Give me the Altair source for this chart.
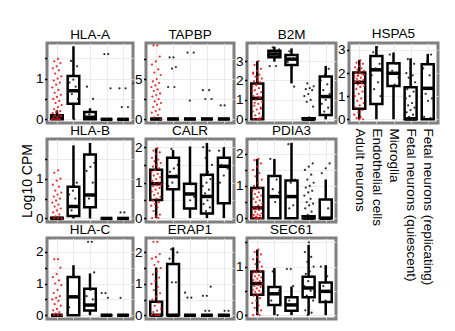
import altair as alt
import pandas as pd

CATS = ["Adult neurons", "Endothelial cells", "Microglia",
        "Fetal neurons (quiescent)", "Fetal neurons (replicating)"]
ROW1 = ["HLA-A", "TAPBP", "B2M", "HSPA5"]
ROW2 = ["HLA-B", "CALR", "PDIA3"]
ROW3 = ["HLA-C", "ERAP1", "SEC61"]

# box stats per category: [lower whisker, q1, median, q3, upper whisker]
BOX_HLA_A = [[0, 0, 0.03, 0.1, 0.22], [0, 0.38, 0.70, 1.06, 1.79], [0, 0, 0.05, 0.18, 0.27], [0, 0, 0, 0, 0], [0, 0, 0, 0, 0]]
BOX_TAPBP = [[0, 0, 0, 0, 0], [0, 0, 0, 0, 0], [0, 0, 0, 0, 0], [0, 0, 0, 0, 0], [0, 0, 0, 0, 0]]
BOX_B2M = [[0, 0, 1.08, 1.85, 3.0], [2.97, 3.19, 3.36, 3.53, 3.74], [1.85, 2.8, 3.1, 3.31, 3.65], [0, 0, 0, 0.05, 0.08], [0, 0.22, 1.17, 2.2, 2.75]]
BOX_HSPA5 = [[0, 0.46, 1.6, 2.02, 2.57], [0, 0.66, 2.14, 2.74, 3.17], [0, 1.44, 1.99, 2.42, 2.89], [0, 0, 0.02, 1.39, 2.64], [0, 0, 1.34, 2.38, 2.83]]
BOX_HLA_B = [[0, 0, 0, 0.02, 0.04], [0, 0.06, 0.3, 0.8, 1.84], [0, 0.28, 0.59, 1.61, 1.9], [0, 0, 0, 0, 0], [0, 0, 0, 0, 0]]
BOX_CALR = [[0, 0.51, 0.97, 1.36, 1.97], [0, 0.81, 1.17, 1.70, 1.92], [0, 0.27, 0.68, 0.97, 2.02], [0, 0.13, 0.61, 1.22, 2.12], [0, 0.42, 1.46, 1.70, 2.0]]
BOX_PDIA3 = [[0, 0, 0.32, 0.94, 1.84], [0, 0, 0.67, 1.31, 1.84], [0, 0, 0.67, 1.17, 2.34], [0, 0, 0, 0.06, 0.1], [0, 0, 0, 0.58, 1.2]]
BOX_HLA_C = [[0, 0, 0, 0, 0], [0, 0, 0.58, 1.21, 1.58], [0, 0.15, 0.32, 0.84, 1.32], [0, 0, 0, 0, 0], [0, 0, 0, 0, 0]]
BOX_ERAP1 = [[0, 0, 0, 0.43, 1.52], [0, 0, 0, 1.63, 2.16], [0, 0, 0, 0, 0], [0, 0, 0, 0, 0], [0, 0, 0, 0, 0]]
BOX_SEC61 = [[0, 0.42, 0.65, 0.9, 1.35], [0, 0.21, 0.44, 0.58, 0.97], [0, 0.09, 0.21, 0.37, 0.59], [0, 0.37, 0.56, 0.79, 1.45], [0, 0.27, 0.49, 0.67, 1.03]]

# individual cells (Log10 CPM) per category
PTS_HLA_A = [
    [1.48, 1.42, 1.38, 1.3, 1.25, 1.2, 1.12, 1.05, 1.0, 0.95, 0.9, 0.85, 0.78, 0.72, 0.65, 0.6, 0.55, 0.5, 0.45, 0.4, 0.35, 0.3, 0.25, 0.2, 0.18, 0.15, 0.12, 0.1, 0.08, 0.05, 0.03, 0, 0, 0, 0],
    [1.43, 1.3, 0.97, 0.9, 0.8, 0.62, 0.5, 0],
    [0.8, 0.5, 0.12, 0.05],
    [1.6, 1.6, 0.76, 0],
    [0.76, 0.76, 0.3, 0.3, 0]]
PTS_TAPBP = [
    [0.92, 0.92, 0.78, 0.72, 0.68, 0.62, 0.58, 0.55, 0.5, 0.47, 0.45, 0.42, 0.4, 0.37, 0.35, 0.32, 0.3, 0.28, 0.25, 0.22, 0.2, 0.18, 0.15, 0.12, 0.1, 0.08, 0.05, 0.02, 0],
    [0.77, 0.77, 0.65, 0.63, 0.4, 0.4],
    [0.83, 0.83, 0.23],
    [0.36, 0.36, 0.25, 0.25],
    [0.17, 0.17]]
PTS_B2M = [
    [3.0, 2.8, 2.6, 2.5, 2.4, 2.3, 2.2, 2.1, 2.0, 1.95, 1.9, 1.8, 1.7, 1.6, 1.5, 1.4, 1.3, 1.2, 1.1, 1.0, 0.9, 0.8, 0.7, 0.6, 0.5, 0.4, 0.3, 0.2, 0.1, 0, 0, 0, 1.75, 1.45, 1.15, 0.85, 0.55, 2.15, 2.35, 0.05],
    [3.7, 3.6, 3.45, 3.4, 3.3, 3.2, 2.74, 2.74],
    [3.5, 3.3, 3.1, 2.95, 1.68],
    [1.85, 1.7, 1.6, 1.55, 1.5, 1.3, 1.2, 1.0, 0.9, 0.65, 0.1, 0],
    [2.6, 2.3, 2.0, 1.8, 1.5, 1.3, 1.0, 0.8, 0.6, 0.4, 0.2]]
PTS_HSPA5 = [
    [2.55, 2.45, 2.4, 2.3, 2.25, 2.2, 2.15, 2.1, 2.05, 2.0, 1.95, 1.9, 1.85, 1.8, 1.75, 1.7, 1.65, 1.6, 1.55, 1.5, 1.45, 1.4, 1.3, 1.2, 1.1, 1.0, 0.9, 0.8, 0.7, 0.6, 0.5, 0.4, 0.3, 0.2, 0.1, 0.05, 0, 0, 1.62, 1.58, 1.88, 1.92],
    [3.1, 2.9, 2.4, 2.2, 1.9, 1.6, 1.3, 1.0, 0.3],
    [2.8, 2.4, 2.1, 1.8, 1.5],
    [2.6, 2.4, 2.2, 2.0, 1.9, 1.8, 1.6, 1.5, 1.3, 1.2, 1.0, 0.9, 0.7, 0.6, 0.5, 0.4, 0.3, 0.2, 0.1, 0, 0, 0],
    [2.8, 2.5, 2.2, 1.9, 1.1, 0.9, 0.8, 0.1, 0.05]]
PTS_HLA_B = [
    [1.21, 1.15, 1.0, 0.95, 0.85, 0.8, 0.7, 0.65, 0.6, 0.55, 0.5, 0.45, 0.4, 0.35, 0.3, 0.25, 0.2, 0.15, 0.1, 0.05, 0, 0, 0],
    [0.9, 0.7, 0.6, 0.5, 0.2],
    [1.4, 1.3, 1.2, 0.9, 0.5],
    [0],
    [0.15, 0.15]]
PTS_CALR = [
    [1.97, 1.9, 1.85, 1.8, 1.7, 1.65, 1.6, 1.55, 1.5, 1.45, 1.4, 1.35, 1.3, 1.25, 1.2, 1.15, 1.1, 1.05, 1.0, 0.98, 0.95, 0.92, 0.9, 0.85, 0.8, 0.75, 0.7, 0.65, 0.6, 0.55, 0.5, 0.45, 0.4, 0.35, 0.3, 0.2, 0.1, 0.05, 0, 0],
    [1.95, 1.5, 1.4, 1.3, 1.2, 1.0, 0.9],
    [0.95, 0.7, 0.6, 0.5],
    [2.0, 1.9, 1.7, 1.5, 1.3, 1.2, 1.1, 1.0, 0.9, 0.8, 0.7, 0.6, 0.5, 0.4, 0.3, 0.2],
    [1.9, 1.7, 1.5, 1.4, 1.2, 1.0]]
PTS_PDIA3 = [
    [1.84, 1.8, 1.7, 1.6, 1.5, 1.4, 1.3, 1.2, 1.1, 1.0, 0.95, 0.9, 0.85, 0.8, 0.75, 0.7, 0.65, 0.6, 0.55, 0.5, 0.45, 0.4, 0.35, 0.32, 0.3, 0.28, 0.25, 0.2, 0.15, 0.12, 0.1, 0.08, 0.05, 0.03, 0, 0, 0, 0],
    [1.84, 1.2, 0.9, 0.8, 0.5],
    [2.3, 1.2, 1.1, 0.7, 0.4, 0.3],
    [1.7, 1.6, 1.5, 1.35, 1.2, 1.1, 1.0, 0.95, 0.85, 0.8, 0.7, 0.6, 0.5, 0.45, 0.4, 0.3, 0.2, 0.1, 0, 0, 0],
    [1.7, 1.55, 1.4, 0.3]]
PTS_HLA_C = [
    [1.77, 1.77, 1.5, 1.3, 1.2, 1.1, 1.0, 0.95, 0.8, 0.7, 0.6, 0.55, 0.5, 0.45, 0.35, 0.3, 0.2, 0.15, 0.1, 0.05, 0, 0, 0],
    [1.2, 1.2, 0.25],
    [2.32, 2.32, 1.35, 0.8, 0.6, 0.5],
    [0.7, 0.7, 0.55],
    [0.55]]
PTS_ERAP1 = [
    [2.34, 2.34, 1.95, 1.85, 1.8, 1.7, 1.6, 1.5, 1.4, 1.3, 1.2, 1.1, 1.0, 0.9, 0.8, 0.7, 0.6, 0.5, 0.4, 0.3, 0.2, 0.15, 0.1, 0, 0, 0, 0],
    [2.1, 2.0, 1.9, 1.8, 1.05, 1.05],
    [0.72, 0.56, 0.56],
    [0.91, 0.62, 0.62, 0.14, 0.14],
    [0.14, 0.14]]
PTS_SEC61 = [
    [1.35, 1.3, 1.25, 1.2, 1.15, 1.1, 1.05, 1.0, 0.95, 0.92, 0.9, 0.88, 0.85, 0.82, 0.8, 0.78, 0.75, 0.72, 0.7, 0.68, 0.65, 0.62, 0.6, 0.58, 0.55, 0.52, 0.5, 0.48, 0.45, 0.42, 0.4, 0.35, 0.3, 0.25, 0.2, 0.15, 0.1, 0.05, 0, 0],
    [0.9, 0.5, 0.45, 0.3, 0],
    [0.95, 0.95, 0.6, 0.3, 0.2],
    [1.5, 1.3, 1.2, 1.1, 1.0, 0.9, 0.85, 0.8, 0.7, 0.6, 0.5, 0.4, 0.3, 0.2, 0.1, 0.05, 0],
    [1.0, 0.8, 0.6, 0.5, 0.3]]

BOXES = {"HLA-A": BOX_HLA_A, "TAPBP": BOX_TAPBP, "B2M": BOX_B2M, "HSPA5": BOX_HSPA5,
         "HLA-B": BOX_HLA_B, "CALR": BOX_CALR, "PDIA3": BOX_PDIA3,
         "HLA-C": BOX_HLA_C, "ERAP1": BOX_ERAP1, "SEC61": BOX_SEC61}
POINTS = {"HLA-A": PTS_HLA_A, "TAPBP": PTS_TAPBP, "B2M": PTS_B2M, "HSPA5": PTS_HSPA5,
          "HLA-B": PTS_HLA_B, "CALR": PTS_CALR, "PDIA3": PTS_PDIA3,
          "HLA-C": PTS_HLA_C, "ERAP1": PTS_ERAP1, "SEC61": PTS_SEC61}
YDOM = {"HLA-A": [-0.09, 1.87], "TAPBP": [-0.05, 0.95], "B2M": [-0.19, 3.93],
        "HSPA5": [-0.16, 3.30], "HLA-B": [-0.09, 2.0], "CALR": [-0.11, 2.23],
        "PDIA3": [-0.12, 2.46], "HLA-C": [-0.12, 2.44], "ERAP1": [-0.12, 2.46],
        "SEC61": [-0.08, 1.59]}
YTICKS = {"HLA-A": [0, 0.5, 1, 1.5], "TAPBP": [0, 0.25, 0.5, 0.75], "B2M": [0, 1, 2, 3],
          "HSPA5": [0, 1, 2, 3], "HLA-B": [0, 0.5, 1, 1.5], "CALR": [0, 0.5, 1, 1.5, 2],
          "PDIA3": [0, 0.5, 1, 1.5, 2], "HLA-C": [0, 0.5, 1, 1.5, 2],
          "ERAP1": [0, 0.5, 1, 1.5, 2], "SEC61": [0, 0.5, 1, 1.5]}

COL_W = [86, 88, 89, 89]
ROW_H = [80, 83, 81]
HALF = 0.35


def panel(gene, width, height, xlabels=False, ytitle=None):
    bdf = pd.DataFrame([{"cat": i, "lo": b[0], "q1": b[1], "med": b[2], "q3": b[3], "hi": b[4]}
                        for i, b in enumerate(BOXES[gene])])
    pdf = pd.DataFrame([{"cat": i, "v": v, "grp": "a" if i == 0 else "o"}
                        for i, vals in enumerate(POINTS[gene]) for v in vals])
    xs = alt.Scale(domain=[-0.6, 4.6], nice=False, zero=False)
    ys = alt.Scale(domain=YDOM[gene], nice=False, zero=False)
    if xlabels:
        expr = ("datum.value == 0 ? '%s' : datum.value == 1 ? '%s' : datum.value == 2 ? '%s' : "
                "datum.value == 3 ? '%s' : '%s'") % tuple(CATS)
        xaxis = alt.Axis(values=[0, 1, 2, 3, 4], labelExpr=expr, labelAngle=90, labelAlign="left",
                         labelBaseline="middle", labelFontSize=13.5, labelPadding=5,
                         ticks=False, domain=False, grid=True, title="")
    else:
        xaxis = alt.Axis(values=[0, 1, 2, 3, 4], labels=False, ticks=False, domain=False,
                         grid=True, title="")
    if gene == "TAPBP":
        lexpr = "datum.value == 0 ? '0' : datum.value == 0.5 ? '.5' : ''"
    else:
        lexpr = "datum.value % 1 == 0 ? format(datum.value, 'd') : ''"
    yaxis = alt.Axis(values=YTICKS[gene], labelExpr=lexpr, grid=True,
                     title=ytitle if ytitle else "", titlePadding=1)

    base = alt.Chart(bdf)
    whisk = base.mark_rule(strokeWidth=2.5, color="black").encode(
        x=alt.X("cat:Q", scale=xs, axis=xaxis),
        y=alt.Y("lo:Q", scale=ys, axis=yaxis),
        y2="hi:Q")
    box = base.transform_calculate(
        xl="datum.cat - %f" % HALF, xr="datum.cat + %f" % HALF
    ).mark_bar(fill="white", stroke="black", strokeWidth=2.5).encode(
        x=alt.X("xl:Q", scale=xs, axis=xaxis), x2="xr:Q",
        y=alt.Y("q1:Q", scale=ys, axis=yaxis), y2="q3:Q")
    med = base.transform_calculate(
        xl="datum.cat - %f" % HALF, xr="datum.cat + %f" % HALF
    ).mark_rule(strokeWidth=3.5, color="black").encode(
        x=alt.X("xl:Q", scale=xs, axis=xaxis), x2="xr:Q",
        y=alt.Y("med:Q", scale=ys, axis=yaxis))
    pts = alt.Chart(pdf).transform_window(idx="row_number()").transform_calculate(
        jx="datum.cat + ((datum.idx * 0.618034) % 1 - 0.5) * 0.6"
    ).mark_circle(size=5, opacity=0.9).encode(
        x=alt.X("jx:Q", scale=xs, axis=xaxis),
        y=alt.Y("v:Q", scale=ys, axis=yaxis),
        color=alt.Color("grp:N", scale=alt.Scale(domain=["a", "o"], range=["#e31a1c", "#1a1a1a"]),
                        legend=None))
    return alt.layer(whisk, box, med, pts).properties(
        width=width, height=height, title=alt.TitleParams(gene))


cells = []
for j, g in enumerate(ROW1):
    cells.append(panel(g, COL_W[j], ROW_H[0], xlabels=(g == "HSPA5")))
for j, g in enumerate(ROW2):
    cells.append(panel(g, COL_W[j], ROW_H[1], ytitle="Log10 CPM" if g == "HLA-B" else None))
cells.append(
    alt.Chart(pd.DataFrame({"a": [0]})).mark_point(opacity=0).encode(
        x=alt.value(0), y=alt.value(0)
    ).properties(width=1, height=1, view=alt.ViewBackground(strokeOpacity=0))
)
for j, g in enumerate(ROW3):
    cells.append(panel(g, COL_W[j], ROW_H[2]))

chart = alt.concat(
    *cells, columns=4, spacing={"row": 16, "column": 13}, bounds="flush"
).properties(
    padding={"left": 18, "top": 25, "right": 5, "bottom": 5},
    background="white"
).configure_view(
    stroke="#808080", strokeWidth=3, fill="white"
).configure_axis(
    labelFont="Liberation Sans", labelFontSize=13.5, labelColor="black",
    tickColor="black", tickSize=2.5, tickWidth=1.5, domain=False,
    gridColor="#e6e6e6", gridWidth=0.8, labelPadding=1.5,
    titleFont="Liberation Sans", titleFontSize=14, titleFontWeight="normal", titleColor="black"
).configure_title(
    font="Liberation Sans", fontSize=13.5, fontWeight="normal", offset=2, color="black"
)

chart.save("out.html", embed_options={"renderer": "svg", "actions": False})
